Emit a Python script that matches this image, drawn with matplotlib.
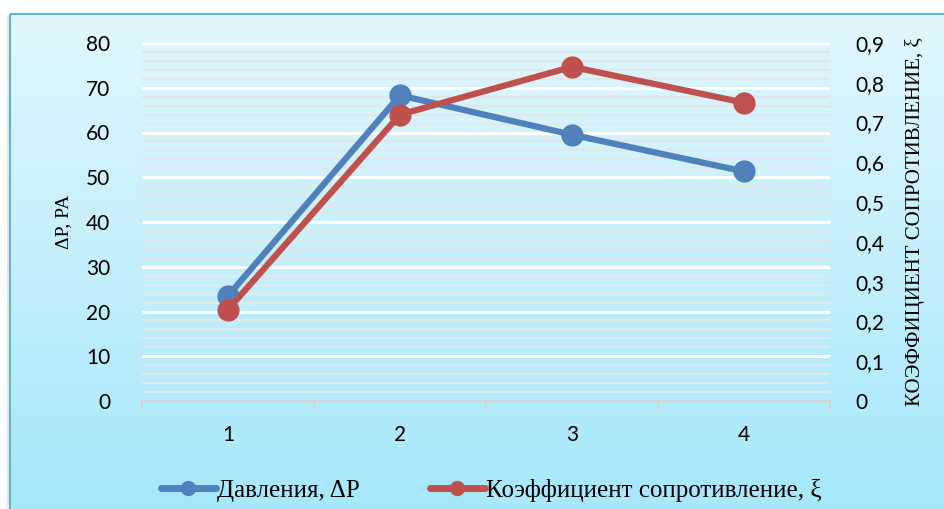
import numpy as np
import matplotlib.pyplot as plt
from matplotlib.patches import Rectangle
from matplotlib.lines import Line2D
from matplotlib.ticker import MultipleLocator, FixedLocator, FuncFormatter

categories = ["1", "2", "3", "4"]
pressure = [23.5, 68.3, 59.5, 51.3]
resistance = [0.23, 0.72, 0.84, 0.75]
left_ticks = [0, 10, 20, 30, 40, 50, 60, 70, 80]
right_ticks = [0, 0.1, 0.2, 0.3, 0.4, 0.5, 0.6, 0.7, 0.8, 0.9]

BLUE = "#4F81BD"
RED = "#C0504D"
TICK_FONT = "Lato"
SERIF = ["Liberation Serif", "DejaVu Serif"]

W, H = 944, 509
fig = plt.figure(figsize=(W / 100, H / 100), dpi=100)
fig.patch.set_facecolor("white")

# gradient chart area with a teal frame
bg = fig.add_axes([0, 0, 1, 1], zorder=-10)
bg.set_xlim(0, W)
bg.set_ylim(H, 0)
bg.axis("off")
grad = np.linspace(0, 1, 256)[:, None]
top_c = np.array([0xE2, 0xF7, 0xFD]) / 255
bot_c = np.array([0xA6, 0xE8, 0xFA]) / 255
img = top_c[None, None, :] * (1 - grad[..., None]) + bot_c[None, None, :] * grad[..., None]
bg.imshow(img, extent=[10, W + 5, H + 5, 14], aspect="auto", zorder=0)
bg.add_patch(Rectangle((7, 16), W, H, facecolor="#d0d0d0", edgecolor="none", alpha=0.5, zorder=-1))
bg.add_patch(Rectangle((10, 14), W, H, facecolor="none", edgecolor="#62B6CB", linewidth=1.5, zorder=1))

ax = fig.add_axes([142 / W, 1 - 401 / H, (830 - 142) / W, (401 - 43) / H])
ax.set_facecolor("none")
x = np.arange(1, len(categories) + 1)

ax.set_xlim(0.5, len(categories) + 0.5)
ax.set_ylim(0, 80)
ax.yaxis.set_major_locator(FixedLocator(left_ticks))
ax.yaxis.set_minor_locator(MultipleLocator(2))
ax.grid(which="minor", axis="y", color="#E2E8EA", linewidth=1.6, zorder=0)
ax.grid(which="major", axis="y", color="white", linewidth=2.2, zorder=0)
ax.set_axisbelow(True)
for s in ["top", "right", "left"]:
    ax.spines[s].set_visible(False)
ax.spines["bottom"].set_color("#D4D4D4")
ax.spines["bottom"].set_linewidth(1.5)
ax.set_xticks(x)
ax.set_xticklabels(categories, fontsize=15, family=TICK_FONT)
ax.xaxis.set_minor_locator(FixedLocator(np.arange(0.5, len(categories) + 1, 1)))
ax.tick_params(axis="x", which="major", length=0, pad=17)
ax.tick_params(axis="x", which="minor", length=6, width=1.5, color="#D4D4D4")
ax.tick_params(axis="y", which="both", length=0, pad=23)
for lab in ax.get_yticklabels():
    lab.set_family(TICK_FONT)
    lab.set_fontsize(15)
ax.set_ylabel("ΔP, PA", family=SERIF, fontsize=14, labelpad=10)

ax2 = ax.twinx()
ax2.set_ylim(0, 0.9)
ax2.yaxis.set_major_locator(FixedLocator(right_ticks))
ax2.yaxis.set_major_formatter(FuncFormatter(lambda v, p: "0" if abs(v) < 1e-9 else f"{v:.1f}".replace(".", ",")))
for s in ["top", "right", "left", "bottom"]:
    ax2.spines[s].set_visible(False)
ax2.tick_params(axis="y", length=0, pad=18)
for lab in ax2.get_yticklabels():
    lab.set_family(TICK_FONT)
    lab.set_fontsize(15)
ax2.set_ylabel("КОЭФФИЦИЕНТ СОПРОТИВЛЕНИЕ, ξ", family=SERIF, fontsize=15, labelpad=15)

ax.plot(x, pressure, color=BLUE, linewidth=4.5, marker="o", markersize=15,
        solid_capstyle="round", zorder=3, clip_on=False)
ax2.plot(x, resistance, color=RED, linewidth=4.5, marker="o", markersize=15,
         solid_capstyle="round", zorder=3, clip_on=False)

handles = [
    Line2D([], [], color=BLUE, linewidth=5, marker="o", markersize=10, solid_capstyle="round"),
    Line2D([], [], color=RED, linewidth=5, marker="o", markersize=10, solid_capstyle="round"),
]
fig.legend(handles, ["Давления, ΔP", "Коэффициент сопротивление, ξ"],
           loc="center", bbox_to_anchor=(0.52, 1 - 490 / H), ncol=2, frameon=False,
           prop={"family": SERIF, "size": 18}, handlelength=2.2, handletextpad=0.05,
           columnspacing=2.8)

fig.savefig("out.png", dpi=100)
